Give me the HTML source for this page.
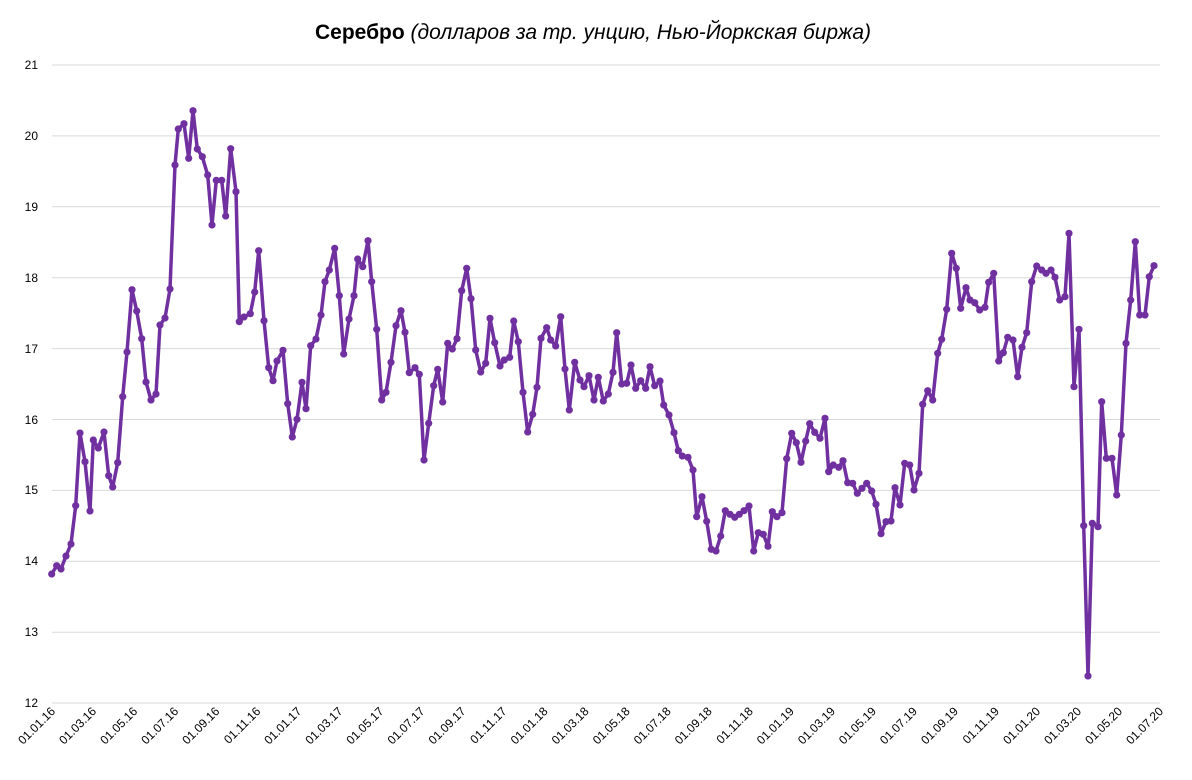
<!DOCTYPE html>
<html><head><meta charset="utf-8"><style>
body{margin:0;background:#fff;}
svg text{font-family:"Liberation Sans",sans-serif;}
</style></head><body>
<svg width="1192" height="775" xmlns="http://www.w3.org/2000/svg">
<defs>
<marker id="dot" viewBox="-5 -5 10 10" markerWidth="7.2" markerHeight="7.2" markerUnits="userSpaceOnUse" refX="0" refY="0">
<circle cx="0" cy="0" r="5" fill="#7030a0"/>
</marker>
</defs>
<rect width="1192" height="775" fill="#fff"/>
<text x="593" y="39" text-anchor="middle" font-size="21" fill="#000"><tspan font-weight="bold">Серебро</tspan> <tspan font-style="italic">(долларов за тр. унцию, Нью-Йоркская биржа)</tspan></text>
<g stroke="#d9d9d9" stroke-width="1">
<line x1="52" x2="1160" y1="65" y2="65"/><line x1="52" x2="1160" y1="135.9" y2="135.9"/><line x1="52" x2="1160" y1="206.8" y2="206.8"/><line x1="52" x2="1160" y1="277.7" y2="277.7"/><line x1="52" x2="1160" y1="348.6" y2="348.6"/><line x1="52" x2="1160" y1="419.5" y2="419.5"/><line x1="52" x2="1160" y1="490.4" y2="490.4"/><line x1="52" x2="1160" y1="561.3" y2="561.3"/><line x1="52" x2="1160" y1="632.2" y2="632.2"/><line x1="52" x2="1160" y1="703" y2="703"/>
</g>
<g font-size="12" fill="#000" text-anchor="end">
<text x="38" y="69">21</text><text x="38" y="140">20</text><text x="38" y="211">19</text><text x="38" y="282">18</text><text x="38" y="353">17</text><text x="38" y="424">16</text><text x="38" y="494">15</text><text x="38" y="565">14</text><text x="38" y="636">13</text><text x="38" y="707">12</text>
</g>
<g font-size="12" fill="#000" text-anchor="end">
<text transform="translate(56,712) rotate(-45)">01.01.16</text>
<text transform="translate(97,712) rotate(-45)">01.03.16</text>
<text transform="translate(138.1,712) rotate(-45)">01.05.16</text>
<text transform="translate(179.1,712) rotate(-45)">01.07.16</text>
<text transform="translate(220.2,712) rotate(-45)">01.09.16</text>
<text transform="translate(261.2,712) rotate(-45)">01.11.16</text>
<text transform="translate(302.2,712) rotate(-45)">01.01.17</text>
<text transform="translate(343.3,712) rotate(-45)">01.03.17</text>
<text transform="translate(384.3,712) rotate(-45)">01.05.17</text>
<text transform="translate(425.4,712) rotate(-45)">01.07.17</text>
<text transform="translate(466.4,712) rotate(-45)">01.09.17</text>
<text transform="translate(507.4,712) rotate(-45)">01.11.17</text>
<text transform="translate(548.5,712) rotate(-45)">01.01.18</text>
<text transform="translate(589.5,712) rotate(-45)">01.03.18</text>
<text transform="translate(630.6,712) rotate(-45)">01.05.18</text>
<text transform="translate(671.6,712) rotate(-45)">01.07.18</text>
<text transform="translate(712.6,712) rotate(-45)">01.09.18</text>
<text transform="translate(753.7,712) rotate(-45)">01.11.18</text>
<text transform="translate(794.7,712) rotate(-45)">01.01.19</text>
<text transform="translate(835.8,712) rotate(-45)">01.03.19</text>
<text transform="translate(876.8,712) rotate(-45)">01.05.19</text>
<text transform="translate(917.8,712) rotate(-45)">01.07.19</text>
<text transform="translate(958.9,712) rotate(-45)">01.09.19</text>
<text transform="translate(999.9,712) rotate(-45)">01.11.19</text>
<text transform="translate(1041,712) rotate(-45)">01.01.20</text>
<text transform="translate(1082,712) rotate(-45)">01.03.20</text>
<text transform="translate(1123,712) rotate(-45)">01.05.20</text>
<text transform="translate(1164,712) rotate(-45)">01.07.20</text>
</g>
<polyline fill="none" stroke="#7030a0" stroke-width="3.5" stroke-linejoin="round" marker-start="url(#dot)" marker-mid="url(#dot)" marker-end="url(#dot)" points="51.7,574 56.7,565.7 61,569 66,556 71,544 75.7,505.7 80,433 85,461.7 90,511 93.3,440 98.3,448 104,432 108.7,475.7 112.7,487 117.7,462.7 122.7,396.7 127,352 132,289.7 136.7,311 141.7,338.7 146,382 151,400 156,394 160,325 165,318 170,289 175,165 178.3,129 184,123.7 188.7,158.3 193,110.7 197.3,149 202.3,156.7 207.7,175 212,225 216.3,180.3 221.7,180.3 225.7,216 230.7,148.7 236,191.7 239.3,321.7 244,317 250.3,313.7 254.7,292 258.7,250.7 264,320.7 268.7,367.7 273,380.7 277,361 283,350.3 287.7,403.7 292.3,437 297,419.3 302,382.3 306,408.7 310.7,345.7 316,339 321,315 325,281.7 329.3,270 334.7,248.3 339.3,295.7 343.7,354 349,319 354,295.7 357.7,259 362.7,266.7 368,240.7 371.7,281.7 376.7,329.3 381.7,400 386,392.3 391,362.3 396,325.7 401,310.7 405,332.3 409.3,372.7 415,367.7 419.3,374.3 424,460 428.7,423.3 433.7,385.7 437.7,369.3 442.7,402 447.7,343.3 452.3,349 457,338.7 461.7,290.7 466.7,268.3 471,298.7 475.7,350 480.7,372 485.7,363.3 490,318.3 494.7,342.7 500,366 504.3,360 509.7,357.3 513.7,321 518.3,341.7 523,392.3 527.7,432 532.7,414.3 537,387.3 541,338.3 546.7,327.7 550.7,340 555.7,346 560.7,316.7 565,369 569.3,410 574.7,362.3 580,380 584,386.7 589,375.7 594,400 598.3,377.3 603.3,401 608.3,394 613,372.3 616.7,332.7 621.7,384 626.7,383.3 631,365 635.7,388.3 640.7,380.7 645.7,388.3 650,366.7 654.7,385.7 660,381 663.7,405 669,415 674,432.7 678.3,450.7 682.3,456 688,457.3 693,470 696.7,516.7 702,496.7 706.7,521.3 711.3,549.3 716,551 720.7,536 725.3,510.7 730,514.3 734.7,517.3 739.3,514.3 744,510.7 749,506 753.7,551 758.3,532.7 763.3,534.3 768,546.3 772.3,511.7 777,516.7 782,512.7 786.7,458.7 791.7,433.3 796.3,442.7 801,462.3 805.7,441 809.7,423.7 814.7,432.3 820,438.3 825,418.3 828.7,471.7 833.3,465 838.7,467.3 843,460.7 847.7,482.7 852.7,483.3 857.3,493.3 862,488.3 866.7,483.3 871.7,491 876,504.3 881,533.7 886,521.7 891,521 895,487.7 900,505 904.7,463.3 909.7,465 914,490 919,473.3 922.7,404.3 927.7,390.7 932.7,400 937.7,353.3 941.7,339.3 946.7,309.3 951.7,253.3 956.3,268.3 960.7,308.3 966,287.7 970,300 974.7,302.7 979.7,310 985,307.3 988.7,282.3 993.7,273.3 998.7,361 1003.3,352.7 1007.7,337.3 1013,340 1017.7,376.7 1022,347.3 1026.7,332.7 1031.7,281.7 1036.7,266 1041.7,270 1046,273.3 1051,270 1055,277.3 1059.7,300 1065,296.7 1069,233.3 1074,386.7 1079,329.3 1083.7,525.7 1088,676 1092.3,523.3 1098,526.7 1101.7,401.7 1106.3,458.3 1112,458.3 1116.7,495 1121.3,435 1126,343.3 1130.7,300 1135.3,241.7 1139.7,315 1145,315 1149.3,276.7 1154,265.7"/>
</svg>
</body></html>
